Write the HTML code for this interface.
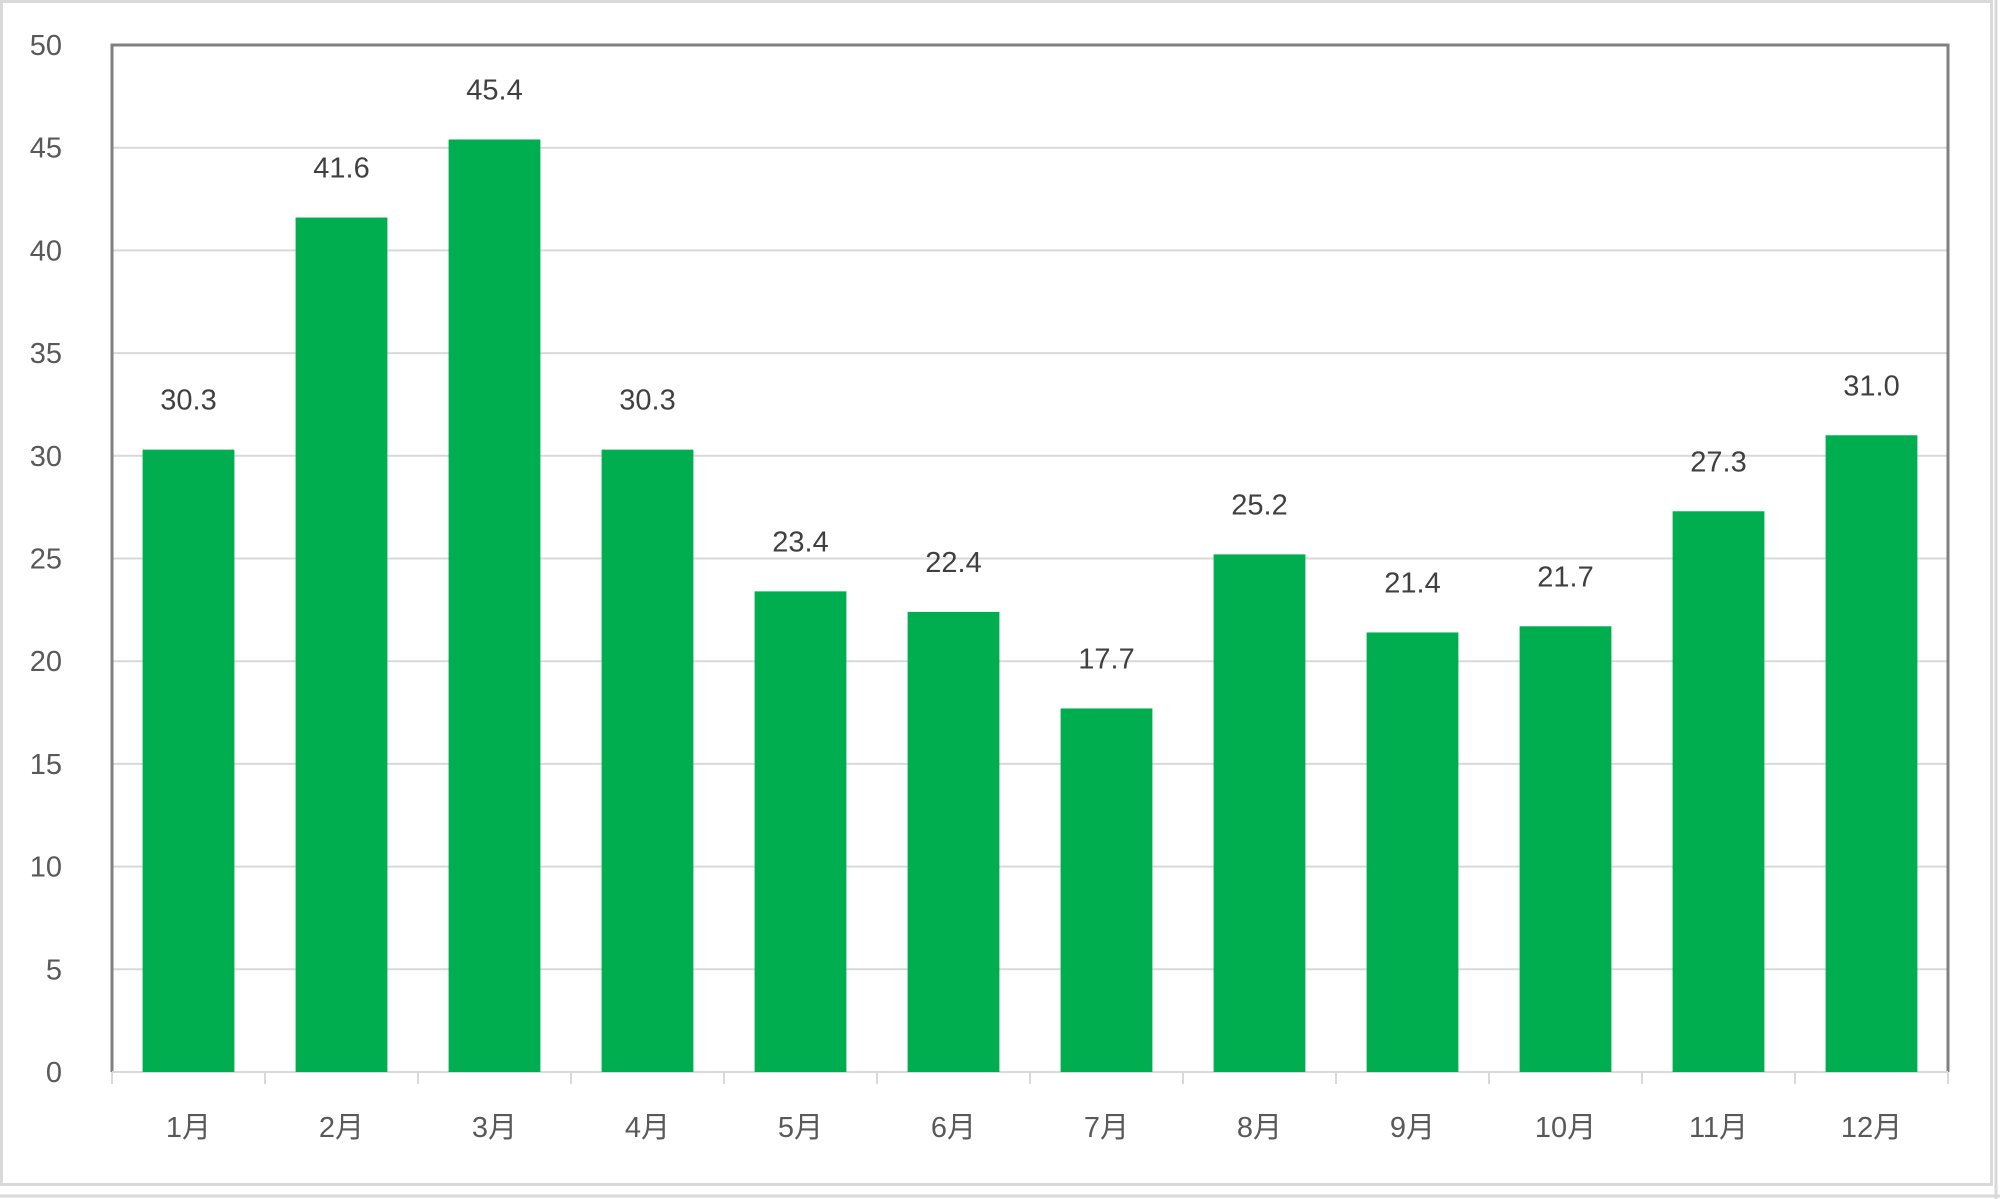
<!DOCTYPE html>
<html><head><meta charset="utf-8"><style>
html,body{margin:0;padding:0;background:#fff;}
svg{display:block;font-family:"Liberation Sans","Noto Sans CJK JP",sans-serif;}
</style></head><body>
<svg id="chart" width="2000" height="1199" viewBox="0 0 2000 1199">
<rect x="1.5" y="1.5" width="1990" height="1183" fill="none" stroke="#d9d9d9" stroke-width="3"/>
<line x1="1996" y1="0" x2="1996" y2="1199" stroke="#d9d9d9" stroke-width="3"/>
<line x1="0" y1="1196" x2="2000" y2="1196" stroke="#d9d9d9" stroke-width="3"/>
<g id="grid"></g><g id="bars"></g><g id="labels"></g>
</svg>
<script>
const categories = ["1月","2月","3月","4月","5月","6月","7月","8月","9月","10月","11月","12月"];
const values = [30.3,41.6,45.4,30.3,23.4,22.4,17.7,25.2,21.4,21.7,27.3,31.0];
const yTicks = [0,5,10,15,20,25,30,35,40,45,50];
const NS="http://www.w3.org/2000/svg";
const L=112,R=1948,T=45,B=1072,yMax=50;
const y=v=>B-(v/yMax)*(B-T);
const band=(R-L)/categories.length;
const x=i=>L+band*i;
function mk(tag,attrs,parent){const e=document.createElementNS(NS,tag);for(const k in attrs)e.setAttribute(k,attrs[k]);parent.appendChild(e);return e;}
const grid=document.getElementById('grid'),bars=document.getElementById('bars'),labels=document.getElementById('labels');
yTicks.forEach(t=>{
  if(t>0&&t<yMax){const g=mk('line',{x1:L,x2:R,y1:y(t),y2:y(t),stroke:'#d9d9d9','stroke-width':2},grid);
  
  }
  const tx=mk('text',{x:62,y:y(t)+10,'text-anchor':'end','font-size':29,fill:'#595959'},labels);
  tx.textContent=t;
  
  
});
const frame=mk('path',{d:`M${L},${B} V${T} H${R} V${B}`,fill:'none',stroke:'#808080','stroke-width':3},grid);


const xa=mk('line',{x1:L,x2:R,y1:B,y2:B,stroke:'#d9d9d9','stroke-width':2},grid);


for(let i=0;i<=categories.length;i++){
  const tk=mk('line',{x1:x(i),x2:x(i),y1:B,y2:B+12,stroke:'#d9d9d9','stroke-width':2},grid);
  
  
}
const bw=band*0.6;
categories.forEach((c,i)=>{
  const cx=x(i)+band/2;
  const r=mk('rect',{x:cx-bw/2,y:y(values[i]),width:bw,height:B-y(values[i]),fill:'#00ae4f'},bars);
  
  
  const v=mk('text',{x:cx,y:y(values[i])-40,'text-anchor':'middle','font-size':29,fill:'#404040'},labels);
  v.textContent=values[i].toFixed(1);
  
  
  const cl=mk('text',{x:cx,y:1137,'text-anchor':'middle','font-size':29,fill:'#595959'},labels);
  cl.textContent=c;
  
  
});
</script>
</body></html>
